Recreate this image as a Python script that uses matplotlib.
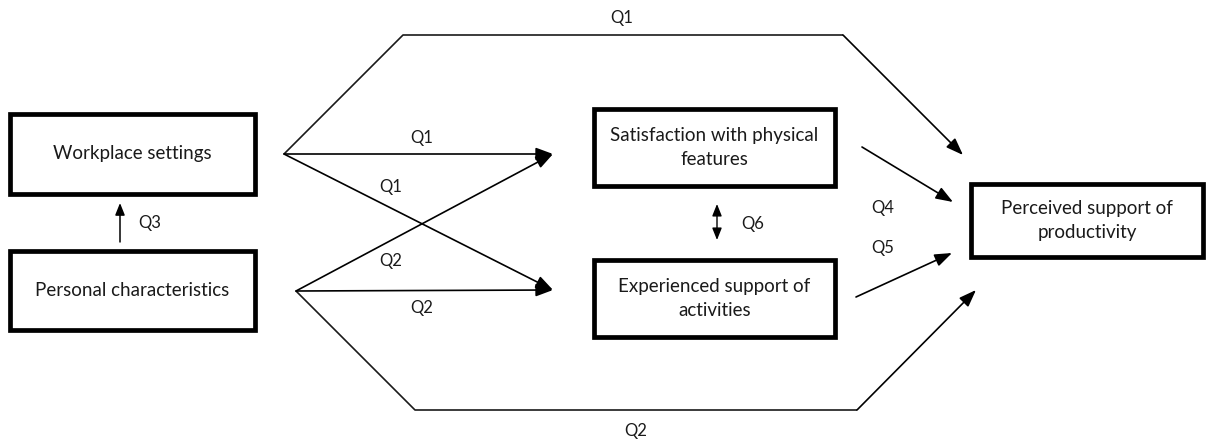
import matplotlib.pyplot as plt
from matplotlib.patches import Rectangle

plt.rcParams['font.family'] = ['Lato', 'DejaVu Sans']

W, H = 1206, 441

# boxes (pixel coords, y downwards)
box_labels = ['Workplace settings', 'Personal characteristics',
              'Satisfaction with physical\nfeatures', 'Experienced support of\nactivities',
              'Perceived support of\nproductivity']
box_left = [10, 10, 594, 594, 971]
box_top = [114, 251, 109, 260, 184]
box_right = [255, 255, 835, 835, 1203]
box_bottom = [194, 330, 186, 337, 257]

# arrow paths, last point gets the arrow head
paths = [
    [(284, 154), (403, 35), (843, 35), (963, 155)],
    [(284, 154), (553, 154)],
    [(284, 154), (553, 290)],
    [(296, 291), (553, 154)],
    [(296, 291), (553, 290)],
    [(296, 291), (415, 410), (857, 410), (976, 290)],
    [(862, 147), (953, 202)],
    [(856, 297), (952, 253)],
    [(120, 242), (120, 203)],
]
double_arrow = [(717, 240), (717, 204)]

path_labels = ['Q1', 'Q1', 'Q1', 'Q2', 'Q2', 'Q2', 'Q4', 'Q5', 'Q3', 'Q6']
label_pos = [(622, 18), (422, 138), (391, 187), (391, 261), (422, 308),
             (636, 431), (883, 208), (883, 248), (150, 223), (753, 224)]

fig = plt.figure(figsize=(W / 100, H / 100), dpi=100)
ax = fig.add_axes([0, 0, 1, 1])
ax.set_xlim(0, W)
ax.set_ylim(H, 0)
ax.axis('off')

for i in range(len(box_labels)):
    ax.add_patch(Rectangle((box_left[i], box_top[i]), box_right[i] - box_left[i],
                           box_bottom[i] - box_top[i], fill=False, ec='black', lw=3.4))
    ax.text((box_left[i] + box_right[i]) / 2, (box_top[i] + box_bottom[i]) / 2, box_labels[i],
            ha='center', va='center', fontsize=13.5, color='#1a1a1a', linespacing=1.45)

for i, p in enumerate(paths):
    xs = [pt[0] for pt in p]
    ys = [pt[1] for pt in p]
    ax.plot(xs[:-1], ys[:-1], color='#1a1a1a', lw=1.2, solid_capstyle='butt')
    small = i == len(paths) - 1
    style = '-|>,head_length=0.45,head_width=0.18' if small else '-|>,head_length=0.65,head_width=0.24'
    ax.annotate('', xy=p[-1], xytext=p[-2],
                arrowprops=dict(arrowstyle=style, color='black', lw=1.1 if small else 1.2,
                                shrinkA=0, shrinkB=0, mutation_scale=16))

ax.annotate('', xy=double_arrow[1], xytext=double_arrow[0],
            arrowprops=dict(arrowstyle='<|-|>,head_length=0.45,head_width=0.18',
                            color='black', lw=1.0, shrinkA=0, shrinkB=0, mutation_scale=16))

for lab, (x, y) in zip(path_labels, label_pos):
    ax.text(x, y, lab, ha='center', va='center', fontsize=12, color='#1a1a1a')

fig.savefig('out.png', dpi=100)
